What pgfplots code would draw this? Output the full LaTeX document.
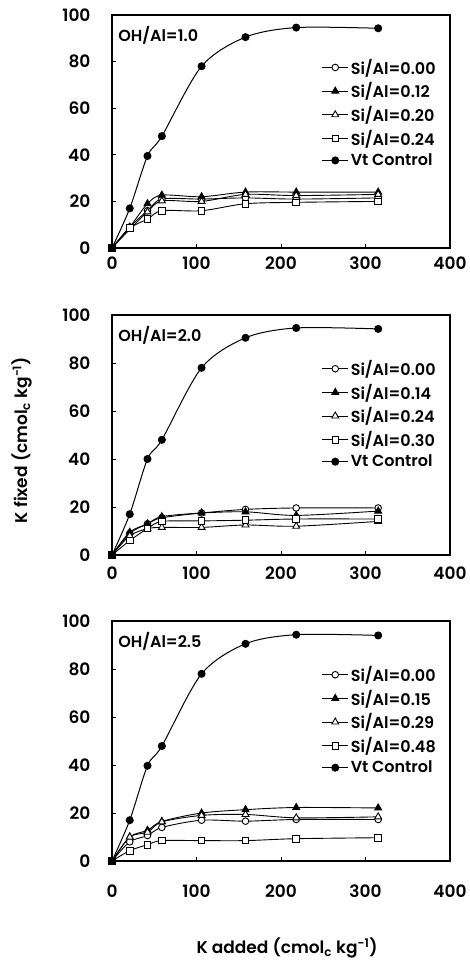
\documentclass[border=0pt]{standalone}
\usepackage{fontspec}
\setmainfont{Poppins}[UprightFont={* SemiBold}]
\usepackage{pgfplots}
\usepackage{pgfplotstable}
\pgfplotsset{compat=1.18}

\pgfplotstableread{
x a b c d vt
0 0 0 0 0 0
21 9 9 8 8.5 17
42 16 19 15.5 12.4 39.5
59 21 22.7 20.2 16 48
106 21 22 20 16 78
158 21.5 24 23 19 90.5
218 21 24 22.5 19.6 94.6
315 21.5 24 23 20 94.3
}\dataA
\pgfplotstableread{
x a b c d vt
0 0 0 0 0 0
21 9 9.5 8 6 17
42 13 13 11 11 40
59 15.5 16 11.5 14 48
106 17.5 17.5 11.5 14.2 78
158 19 18 12.5 14.5 90.5
218 19.6 16.5 12 15 94.6
315 19.6 18.3 14 15 94.2
}\dataB
\pgfplotstableread{
x a b c d vt
0 0 0 0 0 0
21 8 10 10 4.3 17
42 10.6 12.8 12 6.8 39.7
59 14 16.5 16.3 8.5 47.9
106 17 20 19 8.5 78
158 16.6 21.4 19.4 8.5 90.5
218 17.3 22.3 18 9.3 94.3
315 17.3 22.1 18.4 9.7 94
}\dataC

\pgfplotsset{
  panel/.style={
    scale only axis, width=338pt,
    xmin=0, xmax=400, ymin=0, ymax=100,
    xtick={0,100,...,400}, ytick={0,20,...,100},
    tick align=inside, tick pos=left, major tick length=4pt,
    axis line style={line width=1.1pt},
    every tick/.style={black, line width=0.9pt},
    tick label style={font=\fontsize{17}{20}\selectfont},
    /pgf/number format/assume math mode=true,
    yticklabel style={xshift=-18pt},
    clip=false,
    legend style={draw=none, fill=none, font=\fontsize{16}{19}\selectfont,
      at={(0.62,0.82)}, anchor=north west, row sep=3pt, inner sep=0pt},
    legend cell align=left,
    legend image code/.code={\draw[mark repeat=2, mark phase=2, #1]
      plot coordinates {(0pt,0pt) (13pt,0pt) (26pt,0pt)};},
  },
  sA/.style={black, line width=0.9pt, smooth, tension=0.5, mark=*, mark size=3.3pt, mark options={fill=white, solid}},
  sB/.style={black, line width=0.9pt, smooth, tension=0.5, mark=triangle*, mark size=4pt, mark options={fill=black, solid}},
  sC/.style={black, line width=0.9pt, smooth, tension=0.5, mark=triangle*, mark size=4pt, mark options={fill=white, solid}},
  sD/.style={black, line width=0.9pt, smooth, tension=0.5, mark=square*, mark size=3.3pt, mark options={fill=white, solid}},
  sV/.style={black, line width=1pt, smooth, tension=0.5, mark=*, mark size=3.5pt, mark options={fill=black, solid}},
}

\begin{document}
\begin{tikzpicture}
\path[use as bounding box] (0pt,0pt) rectangle (469pt,-960pt);

\begin{axis}[panel, at={(112pt,-248pt)}, anchor=south west, height=233pt,
  xticklabel style={yshift=-5pt}]
\addplot[sA] table[x=x,y=a] {\dataA}; \addlegendentry{Si/Al=0.00}
\addplot[sB] table[x=x,y=b] {\dataA}; \addlegendentry{Si/Al=0.12}
\addplot[sC] table[x=x,y=c] {\dataA}; \addlegendentry{Si/Al=0.20}
\addplot[sD] table[x=x,y=d] {\dataA}; \addlegendentry{Si/Al=0.24}
\addplot[sV] table[x=x,y=vt] {\dataA}; \addlegendentry{Vt Control}
\node[anchor=west, inner sep=0pt, font=\fontsize{16}{19}\selectfont] at (rel axis cs:0.018,0.914) {OH/Al=1.0};
\end{axis}

\begin{axis}[panel, at={(112pt,-555pt)}, anchor=south west, height=240pt,
  xticklabel style={yshift=-8pt},
  ylabel={K fixed (cmol\textsubscript{c} kg\textsuperscript{-1})},
  ylabel style={font=\fontsize{17}{20}\selectfont, at={(axis description cs:-0.266,0.479)}, anchor=center, rotate=0}]
\addplot[sA] table[x=x,y=a] {\dataB}; \addlegendentry{Si/Al=0.00}
\addplot[sB] table[x=x,y=b] {\dataB}; \addlegendentry{Si/Al=0.14}
\addplot[sC] table[x=x,y=c] {\dataB}; \addlegendentry{Si/Al=0.24}
\addplot[sD] table[x=x,y=d] {\dataB}; \addlegendentry{Si/Al=0.30}
\addplot[sV] table[x=x,y=vt] {\dataB}; \addlegendentry{Vt Control}
\node[anchor=west, inner sep=0pt, font=\fontsize{16}{19}\selectfont] at (rel axis cs:0.018,0.914) {OH/Al=2.0};
\end{axis}

\begin{axis}[panel, at={(112pt,-861pt)}, anchor=south west, height=240pt,
  xticklabel style={yshift=-20pt},
  xlabel={K added (cmol\textsubscript{c} kg\textsuperscript{-1})},
  xlabel style={font=\fontsize{17}{20}\selectfont, at={(axis description cs:0.518,-0.3625)}, anchor=center}]
\addplot[sA] table[x=x,y=a] {\dataC}; \addlegendentry{Si/Al=0.00}
\addplot[sB] table[x=x,y=b] {\dataC}; \addlegendentry{Si/Al=0.15}
\addplot[sC] table[x=x,y=c] {\dataC}; \addlegendentry{Si/Al=0.29}
\addplot[sD] table[x=x,y=d] {\dataC}; \addlegendentry{Si/Al=0.48}
\addplot[sV] table[x=x,y=vt] {\dataC}; \addlegendentry{Vt Control}
\node[anchor=west, inner sep=0pt, font=\fontsize{16}{19}\selectfont] at (rel axis cs:0.018,0.914) {OH/Al=2.5};
\end{axis}
\end{tikzpicture}
\end{document}
